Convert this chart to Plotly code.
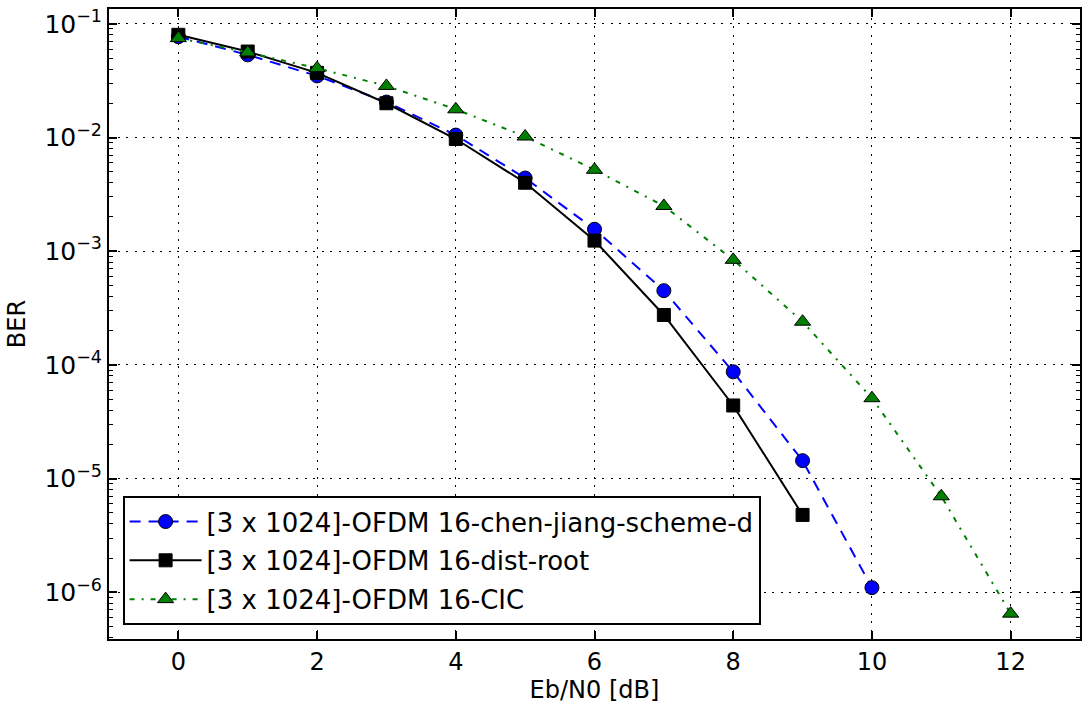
import plotly.graph_objects as go

x_chen = [0, 1, 2, 3, 4, 5, 6, 7, 8, 9, 10]
ber_chen = [0.077, 0.0533, 0.0348, 0.0205, 0.0105, 0.0044, 0.00156, 4.5e-4, 8.7e-5, 1.44e-5, 1.1e-6]

x_dist = [0, 1, 2, 3, 4, 5, 6, 7, 8, 9]
ber_dist = [0.080, 0.057, 0.037, 0.020, 0.0097, 0.0040, 0.00124, 2.75e-4, 4.4e-5, 4.8e-6]

x_cic = [0, 1, 2, 3, 4, 5, 6, 7, 8, 9, 10, 11, 12]
ber_cic = [0.0748, 0.056, 0.0407, 0.0284, 0.0177, 0.0102, 0.0052, 0.0025, 8.4e-4, 2.4e-4, 5.1e-5, 7.0e-6, 6.5e-7]

names = ["[3 x 1024]-OFDM 16-chen-jiang-scheme-d",
         "[3 x 1024]-OFDM 16-dist-root",
         "[3 x 1024]-OFDM 16-CIC"]

x_ticks = [0, 2, 4, 6, 8, 10, 12]
y_exps = [-6, -5, -4, -3, -2, -1]
y_ticktext = ["10<sup>\u2212%d</sup>" % (-e) for e in y_exps]

fig = go.Figure()
fig.add_trace(go.Scatter(
    x=x_chen, y=ber_chen, name=names[0], mode="lines+markers", legendgroup="a",
    line=dict(color="#0000ff", width=2, dash="11px,8px"),
    marker=dict(symbol="circle", size=14, color="#0000ff", line=dict(color="black", width=1))))
fig.add_trace(go.Scatter(
    x=x_dist, y=ber_dist, name=names[1], mode="lines+markers", legendgroup="b",
    line=dict(color="black", width=2),
    marker=dict(symbol="square", size=13, color="black", line=dict(color="black", width=1))))
fig.add_trace(go.Scatter(
    x=x_cic, y=ber_cic, name=names[2], mode="lines+markers", legendgroup="c",
    line=dict(color="#008000", width=2, dash="5px,7px,2px,7px"),
    marker=dict(symbol="triangle-up", size=14, color="#008000", line=dict(color="black", width=1))))

minor_y = []
for e in range(-7, 0):
    for m in range(2, 10):
        v = m * 10.0 ** e
        if 10 ** -6.41 <= v <= 10 ** -0.87:
            minor_y.append(v)

font = "DejaVu Sans, sans-serif"
grid_dash = "2px,6.5px"
fig.update_layout(
    width=1083, height=708,
    margin=dict(l=109, r=1, t=9, b=69),
    paper_bgcolor="white", plot_bgcolor="white",
    font=dict(family=font, size=24, color="black"),
    showlegend=True,
    legend=dict(x=0.014, y=0.022, xanchor="left", yanchor="bottom",
                bordercolor="black", borderwidth=2, bgcolor="white",
                font=dict(size=26, family=font), itemwidth=72,
                traceorder="grouped", tracegroupgap=2),
    xaxis=dict(range=[-1, 13], tickmode="array", tickvals=x_ticks,
               ticks="inside", ticklen=8, tickcolor="black", tickwidth=1.5,
               showline=True, linecolor="black", linewidth=2, mirror="allticks",
               showgrid=True, gridcolor="black", griddash=grid_dash, gridwidth=1,
               zeroline=False,
               title=dict(text="Eb/N0 [dB]", font=dict(size=24), standoff=6),
               tickfont=dict(size=24)),
    yaxis=dict(type="log", range=[-6.41, -0.87], tickmode="array",
               tickvals=[10.0 ** e for e in y_exps], ticktext=y_ticktext,
               ticks="inside", ticklen=8, tickcolor="black", tickwidth=1.5,
               showline=True, linecolor="black", linewidth=2, mirror="allticks",
               showgrid=True, gridcolor="black", griddash=grid_dash, gridwidth=1,
               zeroline=False,
               minor=dict(tickmode="array", tickvals=minor_y, ticks="inside",
                          ticklen=4, tickcolor="black", tickwidth=1, showgrid=False),
               title=dict(text="BER", font=dict(size=24), standoff=12),
               tickfont=dict(size=25)),
)

fig.write_html("out.html", config={"displayModeBar": False},
               post_script="document.body.style.margin='0';document.body.style.padding='0';")
